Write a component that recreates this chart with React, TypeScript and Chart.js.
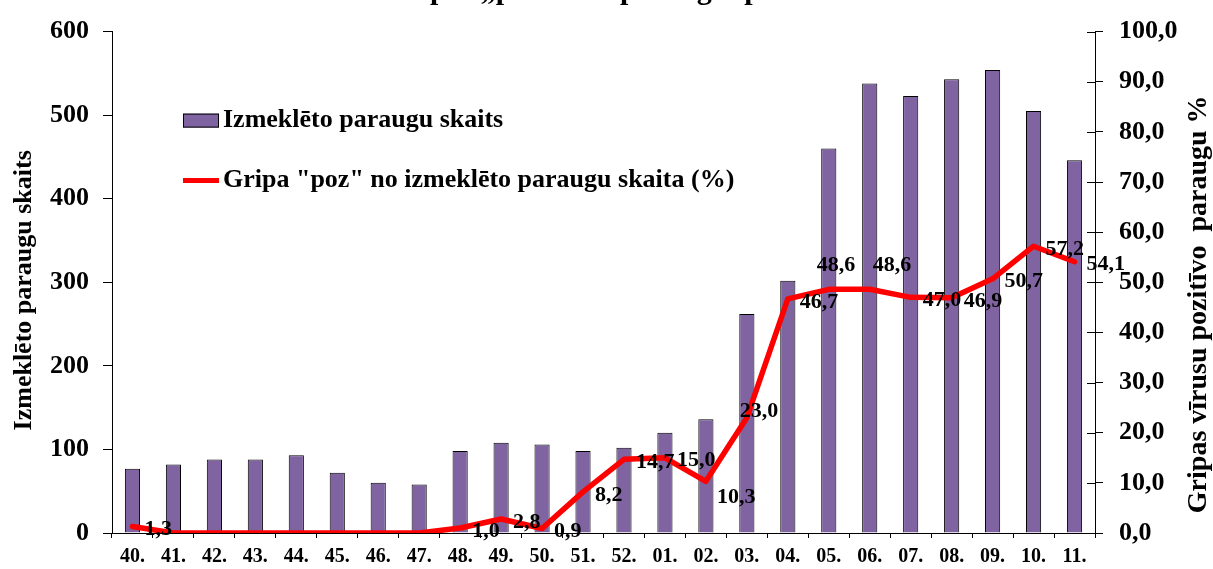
import React, { useEffect, useRef } from 'react';
import { Chart, registerables } from 'chart.js';

Chart.register(...registerables);

const weeks = ['40.', '41.', '42.', '43.', '44.', '45.', '46.', '47.', '48.', '49.', '50.', '51.', '52.', '01.', '02.', '03.', '04.', '05.', '06.', '07.', '08.', '09.', '10.', '11.'];
const sampleCounts = [77, 82, 88, 88, 93, 72, 60, 58, 98, 108, 106, 98, 102, 120, 136, 262, 302, 460, 538, 523, 543, 554, 505, 446];
const positivePercent = [1.3, 0, 0, 0, 0, 0, 0, 0, 1.0, 2.8, 0.9, 8.2, 14.7, 15.0, 10.3, 23.0, 46.7, 48.6, 48.6, 47.0, 46.9, 50.7, 57.2, 54.1];
const leftAxisMax = 600;
const leftAxisStep = 100;
const rightAxisMax = 100;
const rightAxisStep = 10;

const barLabel = 'Izmeklēto paraugu skaits';
const lineLabel = 'Gripa "poz" no izmeklēto paraugu skaita (%)';
const leftTitle = 'Izmeklēto paraugu skaits';
const rightTitle = 'Gripas vīrusu pozitīvo  paraugu %';
const chartTitle = 'Gripas „pozitīvo” paraugu īpatsvars';

// label placement tweaks (style only): index -> [dx, dy]
const labelShift: Record<number, [number, number]> = {
  14: [11, 16],
  15: [-7, -6],
  17: [-12, -24],
  18: [3, -24],
};

const SERIF = '"Liberation Serif", "Times New Roman", serif';
const PURPLE = '#8064A2';
const RED = '#FF0000';
const fmt = (v: number) => v.toFixed(1).replace('.', ',');

const decor = {
  id: 'decor',
  afterDatasetsDraw(chart: any) {
    const ctx = chart.ctx as CanvasRenderingContext2D;
    const area = chart.chartArea;
    const meta = chart.getDatasetMeta(1);
    ctx.save();
    // data labels
    ctx.font = `bold 22px ${SERIF}`;
    ctx.fillStyle = '#000';
    ctx.textAlign = 'left';
    ctx.textBaseline = 'middle';
    meta.data.forEach((pt: any, i: number) => {
      const v = positivePercent[i];
      if (!v) return;
      const [dx, dy] = labelShift[i] ?? [12, 3];
      ctx.fillText(fmt(v), pt.x + dx, pt.y + dy);
    });
    // legend
    const lx = area.left + 71;
    const ly1 = area.top + 89;
    const ly2 = area.top + 149;
    ctx.fillStyle = PURPLE;
    ctx.fillRect(lx, ly1 - 7, 36, 14);
    ctx.strokeStyle = '#000';
    ctx.lineWidth = 1;
    ctx.strokeRect(lx + 0.5, ly1 - 6.5, 35, 13);
    ctx.strokeStyle = RED;
    ctx.lineWidth = 5;
    ctx.beginPath();
    ctx.moveTo(lx, ly2);
    ctx.lineTo(lx + 36, ly2);
    ctx.stroke();
    ctx.fillStyle = '#000';
    ctx.font = `bold 26px ${SERIF}`;
    ctx.fillText(barLabel, lx + 40, ly1);
    ctx.fillText(lineLabel, lx + 40, ly2);
    ctx.restore();
  },
  afterDraw(chart: any) {
    const ctx = chart.ctx as CanvasRenderingContext2D;
    const y1 = chart.scales.y1;
    const y = chart.scales.y;
    ctx.save();
    // inner half of right axis ticks
    ctx.strokeStyle = '#000';
    ctx.lineWidth = 1;
    y1.ticks.forEach((t: any) => {
      const py = Math.round(y1.getPixelForValue(t.value)) + 0.5;
      ctx.beginPath();
      ctx.moveTo(y1.left - 8, py);
      ctx.lineTo(y1.left, py);
      ctx.stroke();
    });
    ctx.fillStyle = '#000';
    ctx.textAlign = 'center';
    ctx.textBaseline = 'middle';
    // left title
    const midY = (y.top + y.bottom) / 2;
    ctx.save();
    ctx.translate(24, midY + 8);
    ctx.rotate(-Math.PI / 2);
    ctx.font = `bold 26px ${SERIF}`;
    ctx.fillText(leftTitle, 0, 0);
    ctx.restore();
    // right title
    ctx.save();
    ctx.translate(1199, midY + 22);
    ctx.rotate(-Math.PI / 2);
    ctx.font = `bold 28px ${SERIF}`;
    ctx.fillText(rightTitle, 0, 0);
    ctx.restore();
    // chart title (mostly above the visible area)
    ctx.textAlign = 'left';
    ctx.textBaseline = 'alphabetic';
    ctx.font = `bold 30px ${SERIF}`;
    ctx.fillText(chartTitle, 385, -1);
    ctx.restore();
  },
};

export default function App() {
  const ref = useRef<HTMLCanvasElement | null>(null);
  useEffect(() => {
    if (!ref.current) return;
    const tickFontY = { family: SERIF, size: 26, weight: 'bold' as const };
    const chart = new Chart(ref.current, {
      type: 'bar',
      data: {
        labels: weeks,
        datasets: [
          {
            type: 'bar',
            label: barLabel,
            data: sampleCounts,
            backgroundColor: PURPLE,
            borderColor: '#000',
            borderWidth: 1,
            barPercentage: 0.37,
            categoryPercentage: 1,
            yAxisID: 'y',
            order: 2,
          },
          {
            type: 'line',
            label: lineLabel,
            data: positivePercent,
            borderColor: RED,
            backgroundColor: RED,
            borderWidth: 5.5,
            pointRadius: 0,
            tension: 0,
            borderJoinStyle: 'round',
            borderCapStyle: 'round',
            yAxisID: 'y1',
            order: 1,
          } as any,
        ],
      },
      options: {
        animation: false,
        responsive: true,
        maintainAspectRatio: false,
        layout: { padding: { top: 26, left: 0, right: 0, bottom: 0 } },
        plugins: {
          legend: { display: false },
          tooltip: { enabled: false },
          title: { display: false },
        },
        scales: {
          x: {
            type: 'category',
            offset: true,
            grid: {
              display: true,
              offset: true,
              drawOnChartArea: false,
              drawTicks: true,
              tickLength: 5,
              color: '#000',
            },
            border: { display: true, color: '#000', width: 1 },
            ticks: {
              color: '#000',
              font: { family: SERIF, size: 20, weight: 'bold' },
              padding: 7,
              maxRotation: 0,
              autoSkip: false,
            },
            afterFit: (s: any) => {
              s.height = 36;
            },
          },
          y: {
            position: 'left',
            min: 0,
            max: leftAxisMax,
            grid: { drawOnChartArea: false, drawTicks: true, tickLength: 9, color: '#000' },
            border: { display: true, color: '#000', width: 1 },
            ticks: { stepSize: leftAxisStep, color: '#000', font: tickFontY, padding: 14 },
            afterFit: (s: any) => {
              s.width = 112;
            },
          },
          y1: {
            position: 'right',
            min: 0,
            max: rightAxisMax,
            grid: { drawOnChartArea: false, drawTicks: true, tickLength: 8, color: '#000' },
            border: { display: true, color: '#000', width: 1 },
            ticks: {
              stepSize: rightAxisStep,
              color: '#000',
              font: tickFontY,
              padding: 16,
              callback: (v: any) => fmt(Number(v)),
            },
            afterFit: (s: any) => {
              s.width = 118;
            },
          },
        },
      },
      plugins: [decor],
    });
    return () => chart.destroy();
  }, []);
  return (
    <div style={{ position: 'fixed', left: 0, top: 0, width: 1213, height: 569, background: '#fff' }}>
      <canvas ref={ref} />
    </div>
  );
}
